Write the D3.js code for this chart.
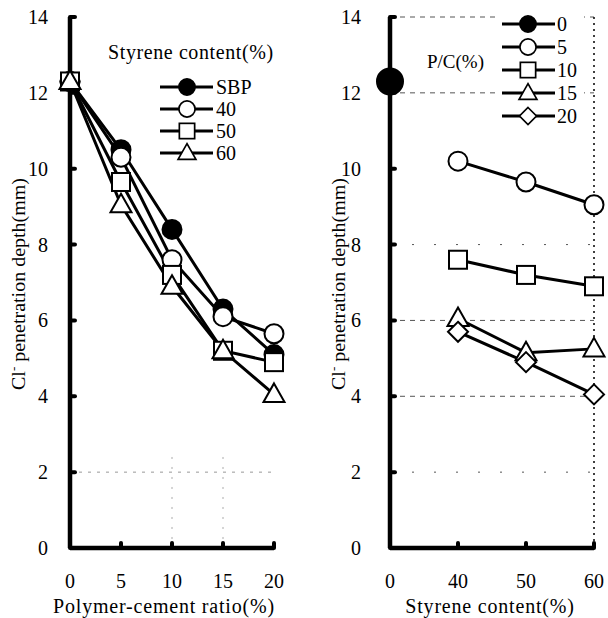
<!DOCTYPE html>
<html>
<head>
<meta charset="utf-8">
<script src="https://cdn.jsdelivr.net/npm/d3@7"></script>
<style>
  body { margin: 0; background: #fff; }
</style>
</head>
<body>
<script>
// left panel: penetration depth vs polymer-cement ratio, one line per styrene content
var pcRatios = [0, 5, 10, 15, 20]
var styreneNames = ['SBP', '40', '50', '60']
var depthSBP = [12.3, 10.5, 8.4, 6.3, 5.1]
var depthS40 = [12.3, 10.3, 7.6, 6.1, 5.65]
var depthS50 = [12.3, 9.65, 7.2, 5.2, 4.9]
var depthS60 = [12.3, 9.05, 6.9, 5.2, 4.05]

// right panel: penetration depth vs styrene content, one line per P/C
var styreneCats = [0, 40, 50, 60]
var pcNames = ['0', '5', '10', '15', '20']
var depthPC0 = [12.3]
var depthPC5 = [10.2, 9.65, 9.05]
var depthPC10 = [7.6, 7.2, 6.9]
var depthPC15 = [6.05, 5.15, 5.25]
var depthPC20 = [5.7, 4.9, 4.05]

var yTicks = [0, 2, 4, 6, 8, 10, 12, 14]

var W = 608
var H = 618
var svg = d3.select('body').append('svg').attr('width', W).attr('height', H)
  .attr('font-family', '"Liberation Serif", "Times New Roman", serif')
  .attr('fill', '#000')

// marker shapes drawn centred on 0,0
function marker (sel, shape, filled, big) {
  var fill = filled ? '#000' : '#fff'
  if (shape === 'circle') {
    sel.append('circle').attr('r', big ? 13 : 9.5)
      .attr('fill', fill).attr('stroke', '#000').attr('stroke-width', 2)
  } else if (shape === 'square') {
    sel.append('rect').attr('x', -9).attr('y', -9).attr('width', 18).attr('height', 18)
      .attr('fill', fill).attr('stroke', '#000').attr('stroke-width', 2)
  } else if (shape === 'triangle') {
    sel.append('path').attr('d', 'M0,-11L10.5,7.5L-10.5,7.5Z')
      .attr('fill', fill).attr('stroke', '#000').attr('stroke-width', 2)
  } else if (shape === 'diamond') {
    sel.append('path').attr('d', 'M0,-10L10,0L0,10L-10,0Z')
      .attr('fill', fill).attr('stroke', '#000').attr('stroke-width', 2)
  }
}

function drawYAxis (g, y, x0, labelX, titleX) {
  g.selectAll('.ytl').data(yTicks).enter().append('text')
    .attr('x', labelX).attr('y', function (d) { return y(d) + 7 })
    .attr('text-anchor', 'end').attr('font-size', 20).text(function (d) { return d })
  g.selectAll('.ytk').data(yTicks).enter().append('line')
    .attr('x1', x0).attr('x2', x0 + 5)
    .attr('y1', function (d) { return y(d) }).attr('y2', function (d) { return y(d) })
    .attr('stroke', '#000').attr('stroke-width', 4).attr('stroke-linecap', 'round')
  g.append('line').attr('x1', x0).attr('x2', x0).attr('y1', y(14)).attr('y2', y(0))
    .attr('stroke', '#000').attr('stroke-width', 4.5)
  // condensed axis title, as in the scanned figure
  var t = g.append('text')
    .attr('transform', 'translate(' + titleX + ',284) rotate(-90)')
    .attr('text-anchor', 'middle').attr('font-size', 18.5).attr('fill', '#000')
    .attr('textLength', 212).attr('lengthAdjust', 'spacingAndGlyphs')
  t.append('tspan').text('Cl')
  t.append('tspan').attr('dy', -7).attr('font-size', 12).text('-')
  t.append('tspan').attr('dy', 7).text(' penetration depth(mm)')
}

var y = d3.scaleLinear().domain([0, 14]).range([548, 17])

// ---- left panel
var left = svg.append('g')
var xL = d3.scaleLinear().domain([0, 20]).range([70, 274])

// faint grid
left.selectAll('.gh').data([2]).enter().append('line')
  .attr('x1', xL(0)).attr('x2', xL(20))
  .attr('y1', function (d) { return y(d) }).attr('y2', function (d) { return y(d) })
  .attr('stroke', '#999').attr('stroke-width', 1).attr('stroke-dasharray', '3,6')
left.selectAll('.gv').data([10, 15]).enter().append('line')
  .attr('x1', function (d) { return xL(d) }).attr('x2', function (d) { return xL(d) })
  .attr('y1', y(2.4)).attr('y2', y(0))
  .attr('stroke', '#aaa').attr('stroke-width', 1).attr('stroke-dasharray', '2,8')

drawYAxis(left, y, xL(0), 48, 25)
left.append('line').attr('x1', xL(0)).attr('x2', xL(20)).attr('y1', y(0)).attr('y2', y(0))
  .attr('stroke', '#000').attr('stroke-width', 4.5)
left.selectAll('.xtk').data(pcRatios.slice(1)).enter().append('line')
  .attr('x1', function (d) { return xL(d) }).attr('x2', function (d) { return xL(d) })
  .attr('y1', y(0)).attr('y2', y(0) - 5)
  .attr('stroke', '#000').attr('stroke-width', 4).attr('stroke-linecap', 'round')
left.selectAll('.xtl').data(pcRatios).enter().append('text')
  .attr('x', function (d) { return xL(d) }).attr('y', 588)
  .attr('text-anchor', 'middle').attr('font-size', 20).text(function (d) { return d })
left.append('text').attr('x', 164).attr('y', 613).attr('text-anchor', 'middle')
  .attr('font-size', 20).attr('letter-spacing', 0.8).text('Polymer-cement ratio(%)')

var leftSeries = [
  { name: styreneNames[0], vals: depthSBP, shape: 'circle', filled: true },
  { name: styreneNames[1], vals: depthS40, shape: 'circle', filled: false },
  { name: styreneNames[2], vals: depthS50, shape: 'square', filled: false },
  { name: styreneNames[3], vals: depthS60, shape: 'triangle', filled: false }
]
var lineL = d3.line().x(function (d, i) { return xL(pcRatios[i]) }).y(function (d) { return y(d) })
leftSeries.forEach(function (s) {
  left.append('path').attr('d', lineL(s.vals)).attr('fill', 'none')
    .attr('stroke', '#000').attr('stroke-width', 3)
})
leftSeries.forEach(function (s) {
  s.vals.forEach(function (v, i) {
    marker(left.append('g').attr('transform', 'translate(' + xL(pcRatios[i]) + ',' + y(v) + ')'), s.shape, s.filled)
  })
})

// left legend
left.append('text').attr('x', 108).attr('y', 59).attr('font-size', 20)
  .attr('letter-spacing', 0.6).text('Styrene content(%)')
leftSeries.forEach(function (s, i) {
  var ly = 87 + i * 22
  left.append('line').attr('x1', 160).attr('x2', 213).attr('y1', ly).attr('y2', ly)
    .attr('stroke', '#000').attr('stroke-width', 3)
  marker(left.append('g').attr('transform', 'translate(187,' + ly + ') scale(0.85)'), s.shape, s.filled)
  left.append('text').attr('x', 216).attr('y', ly + 7).attr('font-size', 20).text(s.name)
})

// ---- right panel
var right = svg.append('g')
var xR = d3.scalePoint().domain(styreneCats).range([390, 594])

// grid
right.selectAll('.gh').data([2, 4, 6, 8, 12, 14]).enter().append('line')
  .attr('x1', xR(0)).attr('x2', xR(60))
  .attr('y1', function (d) { return y(d) }).attr('y2', function (d) { return y(d) })
  .attr('stroke', '#555').attr('stroke-width', 1)
  .attr('stroke-dasharray', function (d) { return (d === 8 || d === 2) ? '2,20' : '5,5' })
right.append('line').attr('x1', xR(60)).attr('x2', xR(60)).attr('y1', y(14)).attr('y2', y(0))
  .attr('stroke', '#000').attr('stroke-width', 1.5).attr('stroke-dasharray', '2,4')

drawYAxis(right, y, xR(0), 361, 345)
right.append('line').attr('x1', xR(0)).attr('x2', xR(60)).attr('y1', y(0)).attr('y2', y(0))
  .attr('stroke', '#000').attr('stroke-width', 4.5)
right.selectAll('.xtk').data(styreneCats.slice(1)).enter().append('line')
  .attr('x1', function (d) { return xR(d) }).attr('x2', function (d) { return xR(d) })
  .attr('y1', y(0)).attr('y2', y(0) - 5)
  .attr('stroke', '#000').attr('stroke-width', 4).attr('stroke-linecap', 'round')
right.selectAll('.xtl').data(styreneCats).enter().append('text')
  .attr('x', function (d) { return xR(d) }).attr('y', 588)
  .attr('text-anchor', 'middle').attr('font-size', 20).text(function (d) { return d })
right.append('text').attr('x', 490).attr('y', 613).attr('text-anchor', 'middle')
  .attr('font-size', 20).attr('letter-spacing', 0.8).text('Styrene content(%)')

var rightSeries = [
  { name: pcNames[0], vals: depthPC0, cats: [0], shape: 'circle', filled: true, big: true },
  { name: pcNames[1], vals: depthPC5, cats: [40, 50, 60], shape: 'circle', filled: false },
  { name: pcNames[2], vals: depthPC10, cats: [40, 50, 60], shape: 'square', filled: false },
  { name: pcNames[3], vals: depthPC15, cats: [40, 50, 60], shape: 'triangle', filled: false },
  { name: pcNames[4], vals: depthPC20, cats: [40, 50, 60], shape: 'diamond', filled: false }
]
rightSeries.forEach(function (s) {
  var ln = d3.line().x(function (d, i) { return xR(s.cats[i]) }).y(function (d) { return y(d) })
  right.append('path').attr('d', ln(s.vals)).attr('fill', 'none')
    .attr('stroke', '#000').attr('stroke-width', 3)
})
rightSeries.forEach(function (s) {
  s.vals.forEach(function (v, i) {
    marker(right.append('g').attr('transform', 'translate(' + xR(s.cats[i]) + ',' + y(v) + ')'), s.shape, s.filled, s.big)
  })
})

// right legend, white box to break the grid
right.append('rect').attr('x', 496).attr('y', 12).attr('width', 88).attr('height', 114).attr('fill', '#fff')
right.append('text').attr('x', 427).attr('y', 68).attr('font-size', 19).text('P/C(%)')
rightSeries.forEach(function (s, i) {
  var ly = 24 + i * 23
  right.append('line').attr('x1', 502).attr('x2', 555).attr('y1', ly).attr('y2', ly)
    .attr('stroke', '#000').attr('stroke-width', 3)
  marker(right.append('g').attr('transform', 'translate(528,' + ly + ') scale(0.85)'), s.shape, s.filled)
  right.append('text').attr('x', 557).attr('y', ly + 7).attr('font-size', 20).text(s.name)
})
</script>
</body>
</html>
